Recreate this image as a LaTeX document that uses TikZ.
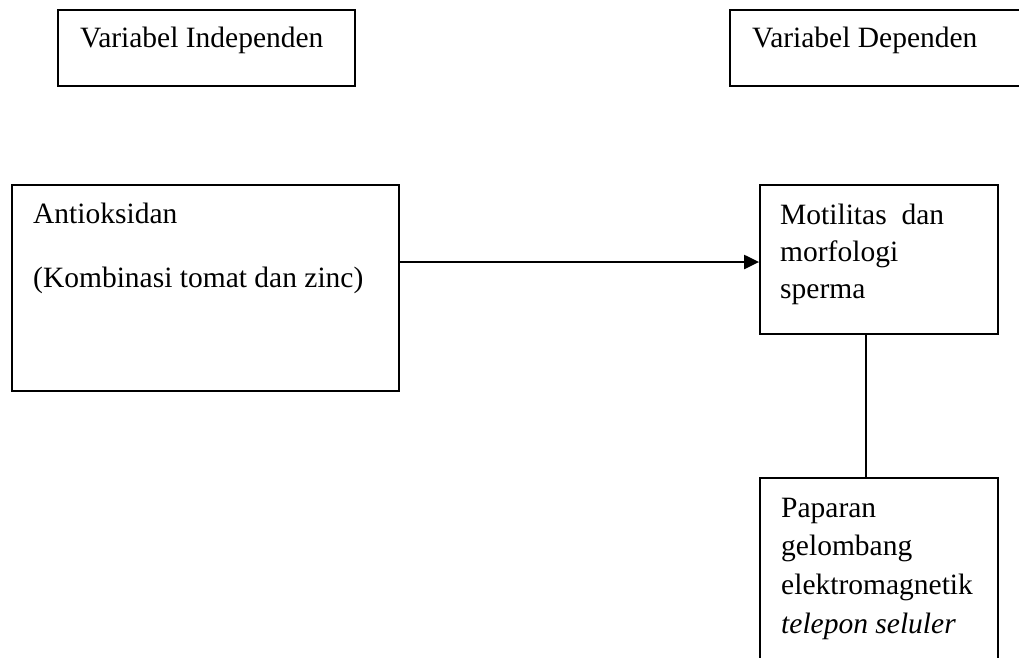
\documentclass[tikz,border=0pt]{standalone}
\usepackage{fontspec}
\setmainfont{Liberation Serif}
\usetikzlibrary{arrows.meta}
\begin{document}
\begin{tikzpicture}[x=1pt,y=-1pt,
  box/.style={draw, line width=1.8pt, rectangle, inner sep=0pt},
  txt/.style={anchor=base west, inner sep=0pt, font=\fontsize{29.5}{37}\selectfont},
  conn/.style={line width=1.8pt},
  arr/.style={line width=2.2pt, -{Triangle[length=15pt,width=14pt]}}]
\useasboundingbox (0,0) rectangle (1019,657);
\clip (0,0) rectangle (1019,657);
% boxes
\node[box, minimum width=297pt, minimum height=76pt] (indep) at (206.5,48) {};
\node[box, minimum width=310pt, minimum height=76pt] (dep) at (885,48) {};
\node[box, minimum width=387pt, minimum height=206pt] (anti) at (205.5,288) {};
\node[box, minimum width=238pt, minimum height=149pt] (moti) at (879,259.5) {};
\node[box, minimum width=238pt, minimum height=240pt] (pap) at (879,598) {};
% texts
\node[txt] (tindep) at (80,47) {Variabel Independen};
\node[txt] (tdep) at (752,47) {Variabel Dependen};
\node[txt] (tanti1) at (33,223) {Antioksidan};
\node[txt] (tanti2) at (33,287) {(Kombinasi tomat dan zinc)};
\node[txt] (tmoti1) at (780,224) {Motilitas\hspace{0.5em}dan};
\node[txt] (tmoti2) at (780,261) {morfologi};
\node[txt] (tmoti3) at (780,298) {sperma};
\node[txt] (tpap1) at (781,517) {Paparan};
\node[txt] (tpap2) at (781,555) {gelombang};
\node[txt] (tpap3) at (781,594) {elektromagnetik};
\node[txt] (tpap4) at (781,633) {\itshape telepon seluler};
% connectors
\draw[arr] ([yshift=-2.5pt]anti.east |- moti.west) -- ([yshift=-2.5pt]moti.west);
\draw[conn] ([xshift=-13pt]moti.south) -- ([xshift=-13pt]pap.north);
\end{tikzpicture}
\end{document}
